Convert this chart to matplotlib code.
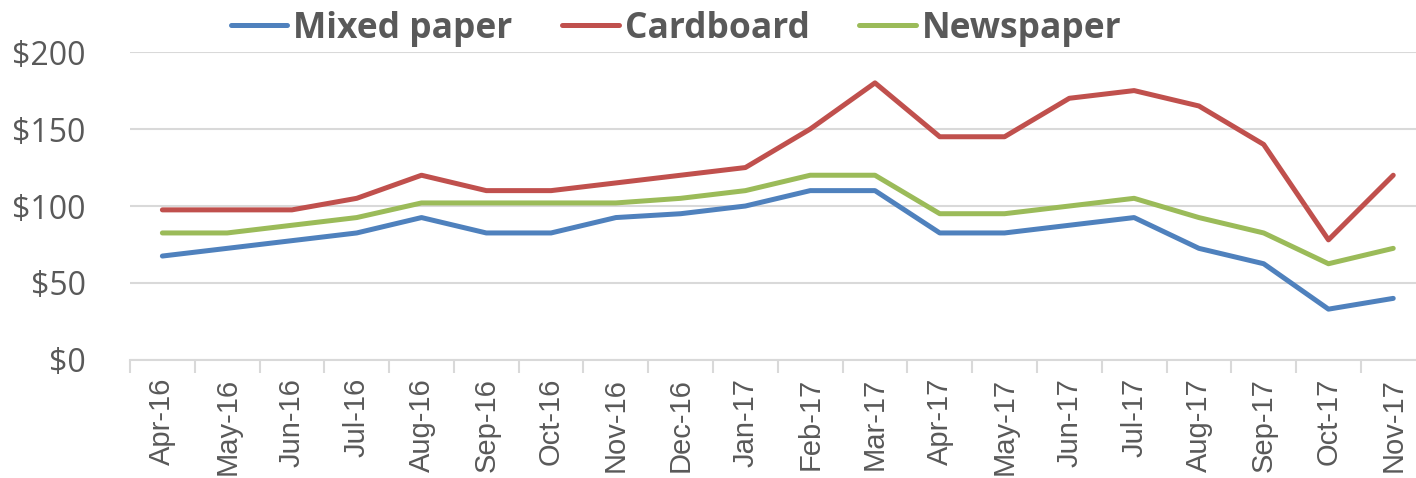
import matplotlib.pyplot as plt
import numpy as np

# data
months = ["Apr-16", "May-16", "Jun-16", "Jul-16", "Aug-16", "Sep-16", "Oct-16",
          "Nov-16", "Dec-16", "Jan-17", "Feb-17", "Mar-17", "Apr-17", "May-17",
          "Jun-17", "Jul-17", "Aug-17", "Sep-17", "Oct-17", "Nov-17"]
mixed_paper = [67.5, 72.5, 77.5, 82.5, 92.5, 82.5, 82.5, 92.5, 95, 100,
               110, 110, 82.5, 82.5, 87.5, 92.5, 72.5, 62.5, 33, 40]
cardboard = [97.5, 97.5, 97.5, 105, 120, 110, 110, 115, 120, 125,
             150, 180, 145, 145, 170, 175, 165, 140, 78, 120]
newspaper = [82.5, 82.5, 87.5, 92.5, 102, 102, 102, 102, 105, 110,
             120, 120, 95, 95, 100, 105, 92.5, 82.5, 62.5, 72.5]
yticks = [0, 50, 100, 150, 200]

plt.rcParams['font.family'] = ['Open Sans', 'DejaVu Sans']
text_col = "#595959"
grid_col = "#d9d9d9"

fig = plt.figure(figsize=(14.16, 4.78), dpi=100)
ax = fig.add_axes([0.0918, 0.247, 0.915, 0.644])

x = np.arange(len(months))
ax.plot(x, mixed_paper, color="#4F81BD", lw=3.6, label="Mixed paper", solid_capstyle="round")
ax.plot(x, cardboard, color="#C0504D", lw=3.6, label="Cardboard", solid_capstyle="round")
ax.plot(x, newspaper, color="#9BBB59", lw=3.6, label="Newspaper", solid_capstyle="round")

ax.set_xlim(-0.5, len(months) - 0.5)
ax.set_ylim(0, 200)
ax.set_yticks(yticks)
ax.set_yticklabels([f"${v}" for v in yticks], fontsize=23, color=text_col)
ax.yaxis.grid(True, color=grid_col, lw=1.5)
ax.set_axisbelow(True)
ax.tick_params(axis="y", length=0, pad=32)

ax.set_xticks(x)
ax.set_xticklabels(months, rotation=90, fontsize=21, color=text_col,
                   family=["Liberation Sans", "DejaVu Sans"])
ax.set_xticks(np.arange(-0.5, len(months)), minor=True)
ax.tick_params(axis="x", which="major", length=0, pad=13)
ax.tick_params(axis="x", which="minor", length=9, color=grid_col, width=1.5)

for s in ["top", "right", "left"]:
    ax.spines[s].set_visible(False)
ax.spines["bottom"].set_color(grid_col)
ax.spines["bottom"].set_linewidth(1.5)

leg = fig.legend(loc="center", bbox_to_anchor=(0.4774, 0.94), ncol=3, frameon=False,
                 handlelength=1.6, handletextpad=0.17, columnspacing=1.4,
                 prop={"size": 25.5, "weight": "bold"})
for t in leg.get_texts():
    t.set_color(text_col)

fig.savefig("out.png", dpi=100)
